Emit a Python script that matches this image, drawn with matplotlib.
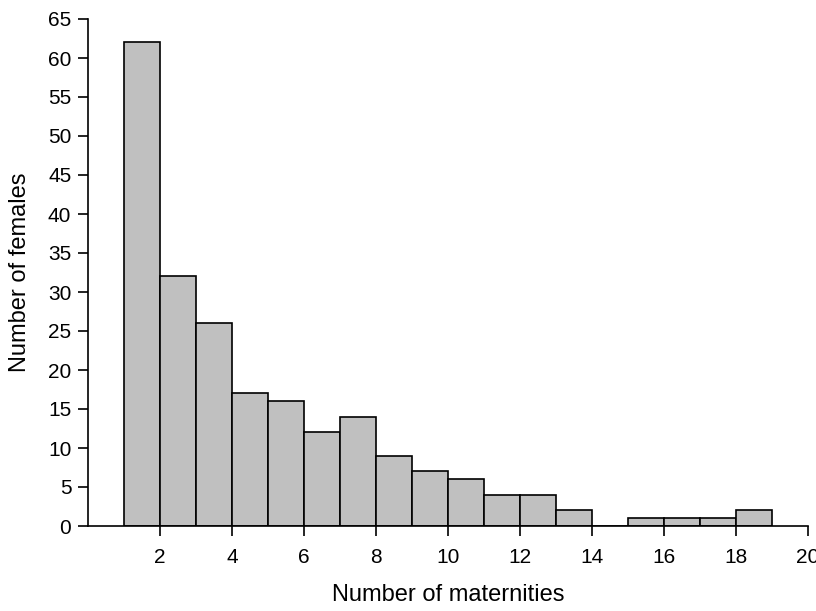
import matplotlib.pyplot as plt
import numpy as np

plt.rcParams["font.family"] = ["Liberation Sans", "DejaVu Sans"]

# bin left edges (number of maternities) and counts of females
bin_left = [1, 2, 3, 4, 5, 6, 7, 8, 9, 10, 11, 12, 13, 14, 15, 16, 17, 18]
counts = [62, 32, 26, 17, 16, 12, 14, 9, 7, 6, 4, 4, 2, 0, 1, 1, 1, 2]

fig = plt.figure(figsize=(8.16, 6.11), dpi=100)
ax = fig.add_axes([88 / 816, 85 / 611, 720 / 816, 507 / 611])

ax.bar(bin_left, counts, width=1, align="edge", color="#c0c0c0",
       edgecolor="black", linewidth=1.2)

ax.set_xlim(0, 20)
ax.set_ylim(0, 65)
ax.set_xticks(np.arange(2, 21, 2))
ax.set_yticks(np.arange(0, 66, 5))
ax.spines["top"].set_visible(False)
ax.spines["right"].set_visible(False)
ax.spines["left"].set_linewidth(1.2)
ax.spines["bottom"].set_linewidth(1.2)
ax.tick_params(direction="out", length=7, width=1.2, labelsize=15, pad=5)
ax.tick_params(axis="x", pad=9)

ax.set_xlabel("Number of maternities", fontsize=17, labelpad=12)
ax.set_ylabel("Number of females", fontsize=17, labelpad=12)

fig.savefig("out.png", dpi=100)
